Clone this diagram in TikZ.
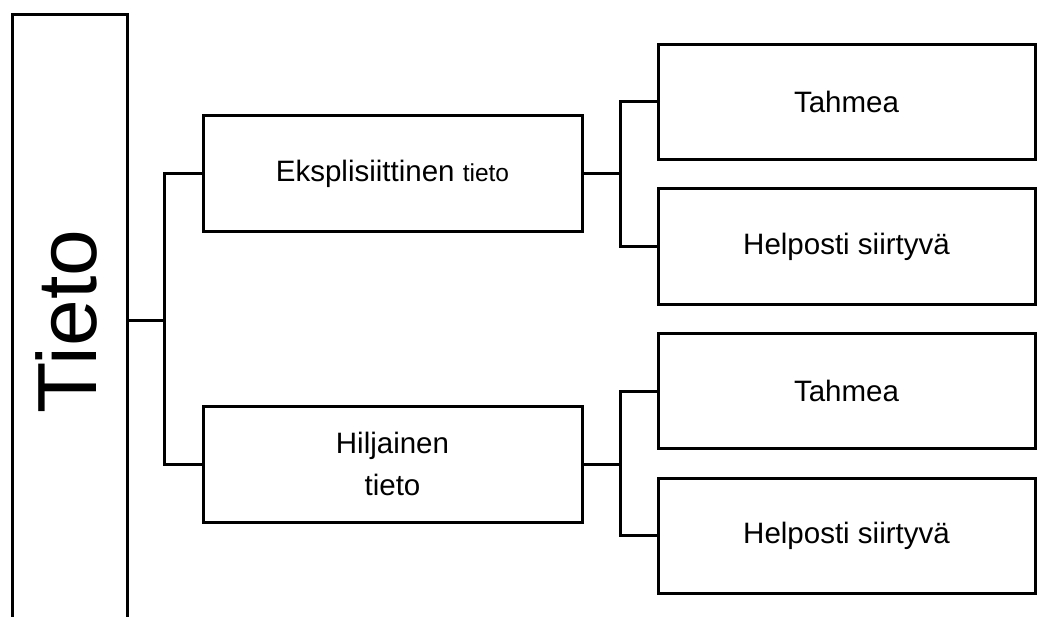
\documentclass[tikz,border=0pt]{standalone}
\usepackage{fontspec}
\setmainfont{Liberation Sans}
\begin{document}
\begin{tikzpicture}[x=1pt,y=1pt,
  box/.style={draw=black, line width=3pt, inner sep=0pt, align=center},
  midbox/.style={box, minimum width=379pt, minimum height=116pt, font=\fontsize{29.5}{41.7}\selectfont},
  leafbox/.style={box, minimum width=377pt, minimum height=115pt, font=\fontsize{29.5}{35}\selectfont},
  conn/.style={draw=black, line width=3pt}]
\useasboundingbox (0,0) rectangle (1040,-617);
\clip (0,0) rectangle (1040,-617);
% root
\node[box, minimum width=114.5pt, minimum height=640pt] (tieto) at (69.75,-334.5) {};
\node[inner sep=0pt, rotate=90, font=\fontsize{84}{100}\selectfont] (tietotext) at (66.5,-321.5) {Tieto};
% middle
\node[midbox] (mid1) at (392.5,-174) {Eksplisiittinen {\fontsize{24.5}{29}\selectfont tieto}};
\node[midbox] (mid2) at (392.5,-464) {Hiljainen\\tieto};
% leaves
\node[leafbox] (r1) at (846.5,-102) {Tahmea};
\node[leafbox] (r2) at (846.5,-246.5) {Helposti siirtyvä};
\node[leafbox] (r3) at (846.5,-391) {Tahmea};
\node[leafbox] (r4) at (846.5,-535.5) {Helposti siirtyvä};
% junctions
\coordinate (j1) at (164.5,-320);
\coordinate (j2) at (620,-174);
\coordinate (j3) at (620,-464);
\draw[conn] (tieto.east |- j1) -- (j1);
\draw[conn] (mid1.west) -| (j1) |- (mid2.west);
\draw[conn] (mid1.east) -- (j2);
\draw[conn] (r1.west) -| (j2) |- (r2.west);
\draw[conn] (mid2.east) -- (j3);
\draw[conn] (r3.west) -| (j3) |- (r4.west);
\end{tikzpicture}
\end{document}
